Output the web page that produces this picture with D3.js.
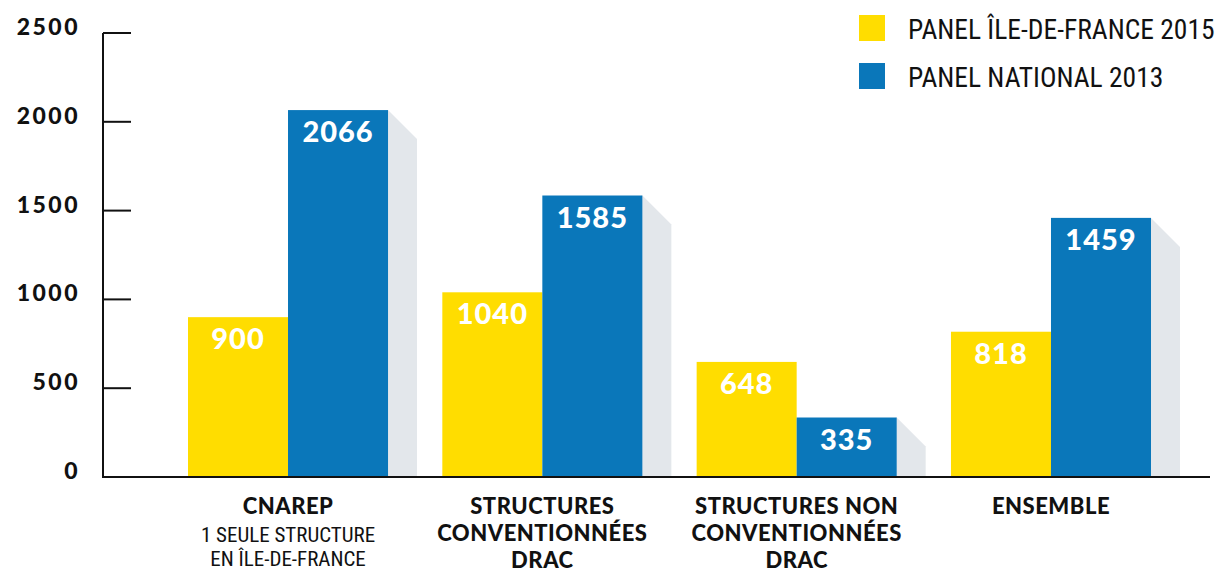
<!DOCTYPE html>
<html>
<head>
<meta charset="utf-8">
<script src="https://cdn.jsdelivr.net/npm/d3@7"></script>
<style>
  body { margin: 0; background: #fff; }
  svg { display: block; }
</style>
</head>
<body>
<script>
// data
var categories = ["CNAREP", "STRUCTURES CONVENTIONNÉES DRAC", "STRUCTURES NON CONVENTIONNÉES DRAC", "ENSEMBLE"];
var catTitle = [["CNAREP"], ["STRUCTURES", "CONVENTIONNÉES", "DRAC"], ["STRUCTURES NON", "CONVENTIONNÉES", "DRAC"], ["ENSEMBLE"]];
var catSub = [["1 SEULE STRUCTURE", "EN ÎLE-DE-FRANCE"], [], [], []];
var seriesNames = ["PANEL ÎLE-DE-FRANCE 2015", "PANEL NATIONAL 2013"];
var idf2015 = [900, 1040, 648, 818];
var nat2013 = [2066, 1585, 335, 1459];
var yTicks = [0, 500, 1000, 1500, 2000, 2500];

var YELLOW = "#FFDD00";
var BLUE = "#0A77BA";
var SHADOW = "#E3E7EB";
var BOLDFONT = "Lato, 'DejaVu Sans', sans-serif";
var NARROWFONT = "'Liberation Sans Narrow', 'Roboto Condensed', Roboto, sans-serif";

var w = 1223, h = 574;
var SVG = d3.select("body").append("svg").attr("width", w).attr("height", h);

var y = d3.scaleLinear().domain([0, 2500]).range([477, 33]);
var x0 = d3.scaleBand().domain(categories).range([188, 1151]).paddingInner(0.2135).paddingOuter(0);
var x1 = d3.scaleBand().domain([0, 1]).range([0, x0.bandwidth()]);

var rows = categories.map(function(c, i) {
  return {cat: c, i: i, vals: [idf2015[i], nat2013[i]]};
});

// shadows behind the blue bars
var sd = 29;
SVG.append("g").selectAll("path").data(rows).enter().append("path")
  .attr("fill", SHADOW)
  .attr("d", function(d) {
    var xr = x0(d.cat) + x1(1) + x1.bandwidth();
    var yt = y(d.vals[1]);
    return "M" + (xr - 1) + "," + yt + "L" + xr + "," + yt + "L" + (xr + sd) + "," + (yt + sd) +
      "L" + (xr + sd) + "," + y(0) + "L" + (xr - 1) + "," + y(0) + "Z";
  });

// bars
var groups = SVG.append("g").selectAll("g").data(rows).enter().append("g")
  .attr("transform", function(d) { return "translate(" + x0(d.cat) + ",0)"; });

groups.selectAll("rect").data(function(d) { return d.vals; }).enter().append("rect")
  .attr("x", function(v, j) { return x1(j); })
  .attr("y", function(v) { return y(v); })
  .attr("width", x1.bandwidth())
  .attr("height", function(v) { return y(0) - y(v); })
  .attr("fill", function(v, j) { return j === 0 ? YELLOW : BLUE; });

groups.selectAll("text.val").data(function(d) { return d.vals; }).enter().append("text")
  .attr("class", "val")
  .attr("x", function(v, j) { return x1(j) + x1.bandwidth() / 2; })
  .attr("y", function(v) { return y(v) + 32; })
  .attr("text-anchor", "middle")
  .attr("fill", "#fff")
  .style("font-family", BOLDFONT)
  .style("font-weight", 900)
  .style("font-size", "29px")
  .style("letter-spacing", "1px")
  .text(function(v) { return v; });

// axis
var AX = SVG.append("g");
AX.append("line").attr("x1", 103).attr("x2", 103).attr("y1", y(2500)).attr("y2", y(0))
  .attr("stroke", "#111").attr("stroke-width", 2);
AX.append("line").attr("x1", 102).attr("x2", 1210).attr("y1", y(0)).attr("y2", y(0))
  .attr("stroke", "#111").attr("stroke-width", 2);
AX.selectAll("line.tick").data(yTicks).enter().append("line")
  .attr("class", "tick")
  .attr("x1", 103).attr("x2", 131)
  .attr("y1", function(d) { return y(d); }).attr("y2", function(d) { return y(d); })
  .attr("stroke", "#111").attr("stroke-width", 2);
AX.selectAll("text").data(yTicks).enter().append("text")
  .attr("x", 80)
  .attr("y", function(d) { return y(d) + 2; })
  .attr("text-anchor", "end")
  .attr("fill", "#111")
  .style("font-family", BOLDFONT)
  .style("font-weight", 900)
  .style("font-size", "23px")
  .style("letter-spacing", "2.5px")
  .text(function(d) { return d; });

// category labels
var CL = SVG.append("g").selectAll("g").data(rows).enter().append("g")
  .attr("transform", function(d) { return "translate(" + (x0(d.cat) + x0.bandwidth() / 2) + ",0)"; });
CL.selectAll("text.t").data(function(d) { return catTitle[d.i]; }).enter().append("text")
  .attr("class", "t")
  .attr("y", function(d, k) { return 514 + k * 27; })
  .attr("text-anchor", "middle")
  .attr("fill", "#111")
  .style("font-family", BOLDFONT)
  .style("font-weight", 900)
  .style("font-size", "22px")
  .style("letter-spacing", "0.5px")
  .text(function(d) { return d; });
CL.selectAll("text.s").data(function(d) { return catSub[d.i]; }).enter().append("text")
  .attr("class", "s")
  .attr("y", function(d, k) { return 542 + k * 24; })
  .attr("text-anchor", "middle")
  .attr("fill", "#111")
  .style("font-family", NARROWFONT)
  .style("font-size", "21px")
  .text(function(d) { return d; });

// legend
var LG = SVG.append("g").selectAll("g").data(seriesNames).enter().append("g")
  .attr("transform", function(d, i) { return "translate(859," + (15 + i * 48) + ")"; });
LG.append("rect").attr("width", 26).attr("height", 26)
  .attr("fill", function(d, i) { return i === 0 ? YELLOW : BLUE; });
LG.append("text").attr("x", 49).attr("y", 24)
  .attr("fill", "#111")
  .style("font-family", NARROWFONT)
  .style("font-size", "27.5px")
  .text(function(d) { return d; });
</script>
</body>
</html>
